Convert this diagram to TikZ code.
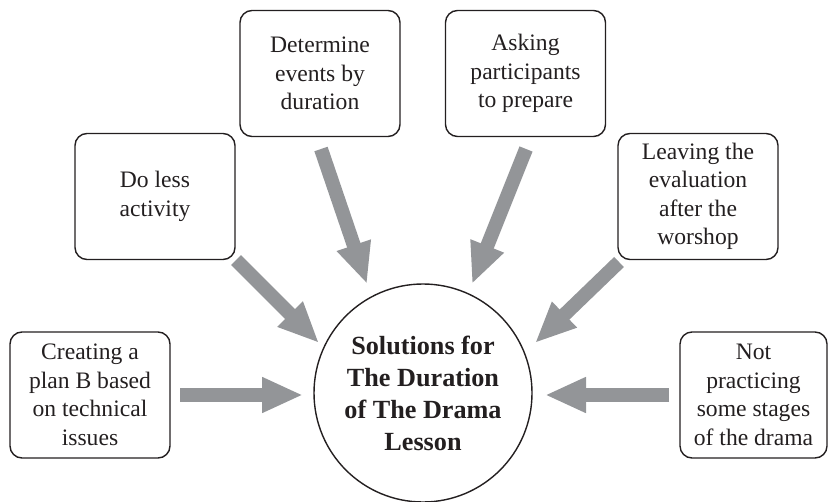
\documentclass[tikz,border=0pt]{standalone}
\usepackage{fontspec}
\setmainfont{Liberation Serif}
\usetikzlibrary{arrows.meta}
\definecolor{arrgray}{HTML}{939598}
\definecolor{ink}{HTML}{231F20}
\tikzset{
  box/.style={draw=ink, line width=0.7pt, rounded corners=6pt, minimum width=80pt, minimum height=63pt,
    align=center, text=ink, inner sep=0pt, font=\fontsize{11.8pt}{14.25pt}\selectfont},
  hub/.style={draw=ink, line width=0.7pt, circle, minimum size=109pt, inner sep=0pt, align=center,
    text=ink, font=\fontsize{13.1pt}{16pt}\selectfont\bfseries},
  blockarrow/.style={draw=arrgray, line width=7pt, line cap=butt,
    -{Triangle[length=20.5pt, width=16.5pt]}}
}
\begin{document}
\begin{tikzpicture}[x=0.5pt,y=-0.5pt]
\useasboundingbox (0,0) rectangle (828,502);
\node[hub] (c) at (423,393) {Solutions for\\The Duration\\of The Drama\\Lesson};
\node[box] (planb) at (90,395) {Creating a\\plan B based\\on technical\\issues};
\node[box] (less) at (155,196.5) {Do less\\activity};
\node[box] (det) at (320,73.5) {Determine\\events by\\duration};
\node[box] (ask) at (525.5,73.5) {Asking\\participants\\to prepare};
\node[box] (leave) at (698,196.5) {Leaving the\\evaluation\\after the\\worshop};
\node[box, minimum width=73.5pt] (notp) at (753.5,395) {Not\\practicing\\some stages\\of the drama};
% arrow ends
\coordinate (a1s) at (180,395); \coordinate (a1e) at (303,395);
\coordinate (a2s) at (236,260); \coordinate (a2e) at (319,343);
\coordinate (a3s) at (321,149); \coordinate (a3e) at (367,284);
\coordinate (a4s) at (526,149); \coordinate (a4e) at (472,284);
\coordinate (a5s) at (619,262); \coordinate (a5e) at (535,343);
\coordinate (a6s) at (669,395); \coordinate (a6e) at (545,395);
\draw[blockarrow] (a1s) -- (a1e);
\draw[blockarrow] (a2s) -- (a2e);
\draw[blockarrow] (a3s) -- (a3e);
\draw[blockarrow] (a4s) -- (a4e);
\draw[blockarrow] (a5s) -- (a5e);
\draw[blockarrow] (a6s) -- (a6e);
\end{tikzpicture}
\end{document}
